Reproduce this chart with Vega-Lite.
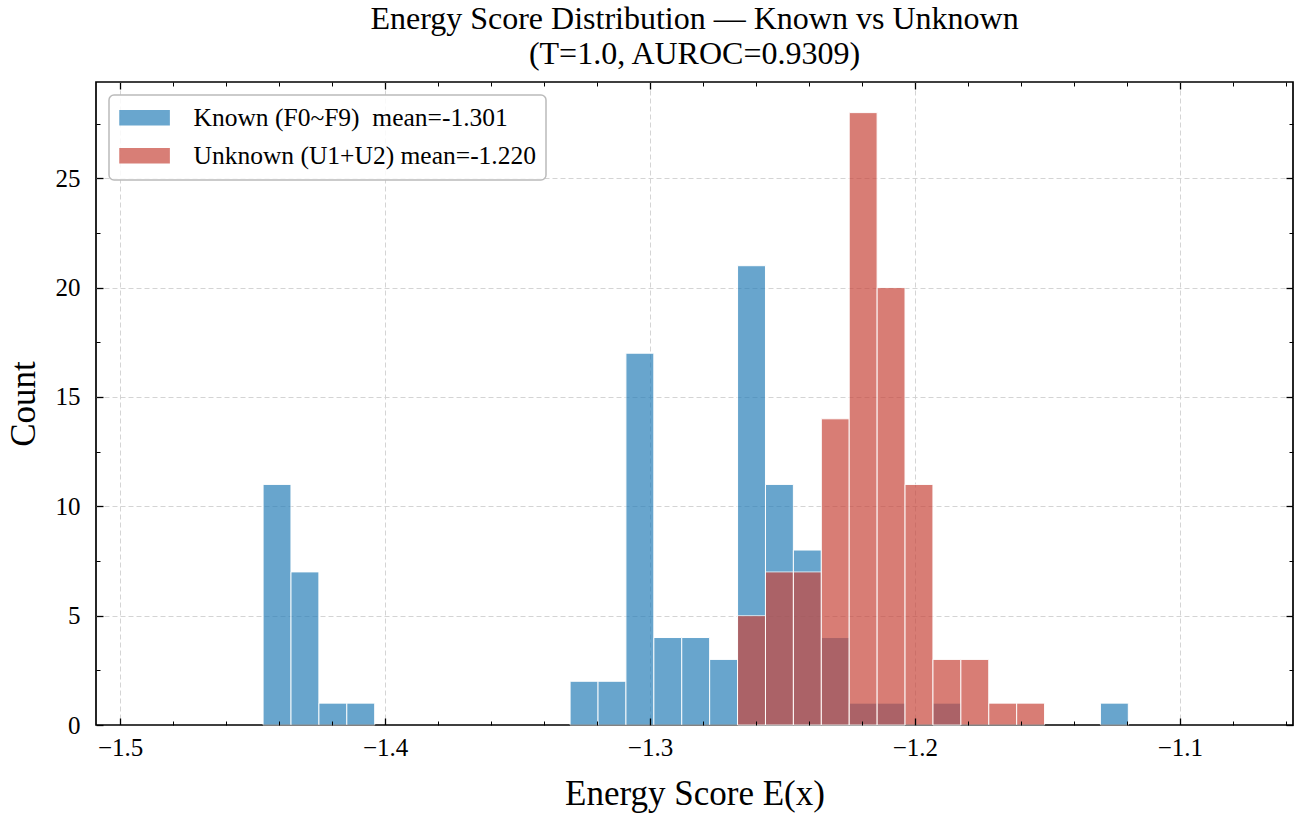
{
  "$schema": "https://vega.github.io/schema/vega-lite/v6.json",
  "width": 1197,
  "height": 643,
  "autosize": {"type": "none"},
  "padding": {"left": 96, "top": 82, "right": 10, "bottom": 97},
  "title": {
    "text": ["Energy Score Distribution — Known vs Unknown", "(T=1.0, AUROC=0.9309)"],
    "font": "Liberation Serif",
    "fontSize": 32,
    "fontWeight": "normal",
    "color": "black",
    "anchor": "middle",
    "lineHeight": 35,
    "offset": 10
  },
  "datasets": {
    "hist": [
      {"group": "Known (F0~F9)\u00a0 mean=-1.301", "lo": -1.44604, "hi": -1.43551, "count": 11},
      {"group": "Known (F0~F9)\u00a0 mean=-1.301", "lo": -1.43551, "hi": -1.42497, "count": 7},
      {"group": "Known (F0~F9)\u00a0 mean=-1.301", "lo": -1.42497, "hi": -1.41444, "count": 1},
      {"group": "Known (F0~F9)\u00a0 mean=-1.301", "lo": -1.41444, "hi": -1.40390, "count": 1},
      {"group": "Known (F0~F9)\u00a0 mean=-1.301", "lo": -1.33016, "hi": -1.31962, "count": 2},
      {"group": "Known (F0~F9)\u00a0 mean=-1.301", "lo": -1.31962, "hi": -1.30909, "count": 2},
      {"group": "Known (F0~F9)\u00a0 mean=-1.301", "lo": -1.30909, "hi": -1.29855, "count": 17},
      {"group": "Known (F0~F9)\u00a0 mean=-1.301", "lo": -1.29855, "hi": -1.28802, "count": 4},
      {"group": "Known (F0~F9)\u00a0 mean=-1.301", "lo": -1.28802, "hi": -1.27748, "count": 4},
      {"group": "Known (F0~F9)\u00a0 mean=-1.301", "lo": -1.27748, "hi": -1.26695, "count": 3},
      {"group": "Known (F0~F9)\u00a0 mean=-1.301", "lo": -1.26695, "hi": -1.25641, "count": 21},
      {"group": "Known (F0~F9)\u00a0 mean=-1.301", "lo": -1.25641, "hi": -1.24588, "count": 11},
      {"group": "Known (F0~F9)\u00a0 mean=-1.301", "lo": -1.24588, "hi": -1.23534, "count": 8},
      {"group": "Known (F0~F9)\u00a0 mean=-1.301", "lo": -1.23534, "hi": -1.22481, "count": 4},
      {"group": "Known (F0~F9)\u00a0 mean=-1.301", "lo": -1.22481, "hi": -1.21427, "count": 1},
      {"group": "Known (F0~F9)\u00a0 mean=-1.301", "lo": -1.21427, "hi": -1.20374, "count": 1},
      {"group": "Known (F0~F9)\u00a0 mean=-1.301", "lo": -1.19320, "hi": -1.18267, "count": 1},
      {"group": "Known (F0~F9)\u00a0 mean=-1.301", "lo": -1.12999, "hi": -1.11946, "count": 1},
      {"group": "Unknown (U1+U2) mean=-1.220", "lo": -1.26695, "hi": -1.25641, "count": 5},
      {"group": "Unknown (U1+U2) mean=-1.220", "lo": -1.25641, "hi": -1.24588, "count": 7},
      {"group": "Unknown (U1+U2) mean=-1.220", "lo": -1.24588, "hi": -1.23534, "count": 7},
      {"group": "Unknown (U1+U2) mean=-1.220", "lo": -1.23534, "hi": -1.22481, "count": 14},
      {"group": "Unknown (U1+U2) mean=-1.220", "lo": -1.22481, "hi": -1.21427, "count": 28},
      {"group": "Unknown (U1+U2) mean=-1.220", "lo": -1.21427, "hi": -1.20374, "count": 20},
      {"group": "Unknown (U1+U2) mean=-1.220", "lo": -1.20374, "hi": -1.19320, "count": 11},
      {"group": "Unknown (U1+U2) mean=-1.220", "lo": -1.19320, "hi": -1.18267, "count": 3},
      {"group": "Unknown (U1+U2) mean=-1.220", "lo": -1.18267, "hi": -1.17213, "count": 3},
      {"group": "Unknown (U1+U2) mean=-1.220", "lo": -1.17213, "hi": -1.16160, "count": 1},
      {"group": "Unknown (U1+U2) mean=-1.220", "lo": -1.16160, "hi": -1.15106, "count": 1}
    ]
  },
  "data": {"name": "hist"},
  "config": {
    "view": {"stroke": "black", "strokeWidth": 1.7},
    "axis": {
      "domain": false,
      "grid": false,
      "labelFont": "Liberation Serif",
      "titleFont": "Liberation Serif",
      "labelColor": "black",
      "titleColor": "black",
      "titleFontWeight": "normal",
      "tickColor": "black"
    },
    "legend": {
      "orient": "top-left",
      "offset": 13,
      "padding": 10,
      "strokeColor": "#bbbbbb",
      "strokeWidth": 1.5,
      "cornerRadius": 5,
      "fillColor": "rgba(255,255,255,0.85)",
      "labelFont": "Liberation Serif",
      "labelFontSize": 25.5,
      "labelColor": "black",
      "labelLimit": 600,
      "symbolType": "M-1,-0.625H3.05V0.625H-1Z",
      "symbolSize": 625,
      "symbolOpacity": 0.7,
      "symbolStrokeWidth": 0,
      "rowPadding": 11,
      "labelOffset": 49
    }
  },
  "resolve": {"scale": {"x": "independent", "y": "independent"}},
  "layer": [
    {
      "mark": {"type": "point", "opacity": 0},
      "encoding": {
        "x": {"field": "lo", "type": "quantitative",
          "scale": {"domain": [-1.5091, -1.0573], "nice": false, "zero": false},
          "axis": {"orient": "bottom", "grid": true, "gridColor": "#cfcfcf", "gridDash": [5, 3], "gridWidth": 0.9,
            "ticks": false, "labels": false, "title": null, "values": [-1.5, -1.4, -1.3, -1.2, -1.1], "zindex": 0}},
        "y": {"field": "count", "type": "quantitative",
          "scale": {"domain": [0, 29.4], "nice": false, "zero": false},
          "axis": {"orient": "left", "grid": true, "gridColor": "#cfcfcf", "gridDash": [5, 3], "gridWidth": 0.9,
            "ticks": false, "labels": false, "title": null, "values": [5, 10, 15, 20, 25], "zindex": 0}}
      }
    },
    {
      "mark": {"type": "bar", "opacity": 0.7, "stroke": "white", "strokeWidth": 1},
      "encoding": {
        "x": {"field": "lo", "type": "quantitative",
          "scale": {"domain": [-1.5091, -1.0573], "nice": false, "zero": false},
          "axis": {"orient": "bottom", "values": [-1.5, -1.4, -1.3, -1.2, -1.1], "format": ".1f",
            "tickSize": -7, "tickWidth": 1.3, "labelPadding": 17, "labelFontSize": 25,
            "title": "Energy Score E(x)", "titleFontSize": 35, "titlePadding": 16, "zindex": 1}},
        "x2": {"field": "hi"},
        "y": {"field": "count", "type": "quantitative",
          "scale": {"domain": [0, 29.4], "nice": false, "zero": false},
          "axis": {"orient": "left", "values": [0, 5, 10, 15, 20, 25], "format": "d",
            "tickSize": -7, "tickWidth": 1.3, "labelPadding": 23, "labelFontSize": 25,
            "title": "Count", "titleFontSize": 35, "titlePadding": 14, "zindex": 1}},
        "y2": {"datum": 0},
        "color": {"field": "group", "type": "nominal",
          "scale": {"domain": ["Known (F0~F9)\u00a0 mean=-1.301", "Unknown (U1+U2) mean=-1.220"],
            "range": ["#2980B9", "#C8473C"]},
          "legend": {"title": null}}
      }
    },
    {
      "mark": {"type": "point", "opacity": 0},
      "encoding": {
        "x": {"field": "lo", "type": "quantitative",
          "scale": {"domain": [-1.5091, -1.0573], "nice": false, "zero": false},
          "axis": {"orient": "bottom", "labels": false, "title": null, "tickSize": -4, "tickWidth": 1,
            "values": [-1.48, -1.46, -1.44, -1.42, -1.38, -1.36, -1.34, -1.32, -1.28, -1.26, -1.24, -1.22, -1.18, -1.16, -1.14, -1.12, -1.08, -1.06], "zindex": 1}},
        "y": {"field": "count", "type": "quantitative",
          "scale": {"domain": [0, 29.4], "nice": false, "zero": false},
          "axis": {"orient": "left", "labels": false, "title": null, "tickSize": -4, "tickWidth": 1,
            "values": [2.5, 7.5, 12.5, 17.5, 22.5, 27.5], "zindex": 1}}
      }
    },
    {
      "mark": {"type": "point", "opacity": 0},
      "encoding": {
        "x": {"field": "lo", "type": "quantitative",
          "scale": {"domain": [-1.5091, -1.0573], "nice": false, "zero": false},
          "axis": {"orient": "top", "labels": false, "title": null, "tickSize": -7, "tickWidth": 1.3,
            "values": [-1.5, -1.4, -1.3, -1.2, -1.1], "zindex": 1}},
        "y": {"field": "count", "type": "quantitative",
          "scale": {"domain": [0, 29.4], "nice": false, "zero": false},
          "axis": {"orient": "right", "labels": false, "title": null, "tickSize": -7, "tickWidth": 1.3,
            "values": [0, 5, 10, 15, 20, 25], "zindex": 1}}
      }
    },
    {
      "mark": {"type": "point", "opacity": 0},
      "encoding": {
        "x": {"field": "lo", "type": "quantitative",
          "scale": {"domain": [-1.5091, -1.0573], "nice": false, "zero": false},
          "axis": {"orient": "top", "labels": false, "title": null, "tickSize": -4, "tickWidth": 1,
            "values": [-1.48, -1.46, -1.44, -1.42, -1.38, -1.36, -1.34, -1.32, -1.28, -1.26, -1.24, -1.22, -1.18, -1.16, -1.14, -1.12, -1.08, -1.06], "zindex": 1}},
        "y": {"field": "count", "type": "quantitative",
          "scale": {"domain": [0, 29.4], "nice": false, "zero": false},
          "axis": {"orient": "right", "labels": false, "title": null, "tickSize": -4, "tickWidth": 1,
            "values": [2.5, 7.5, 12.5, 17.5, 22.5, 27.5], "zindex": 1}}
      }
    }
  ]
}
